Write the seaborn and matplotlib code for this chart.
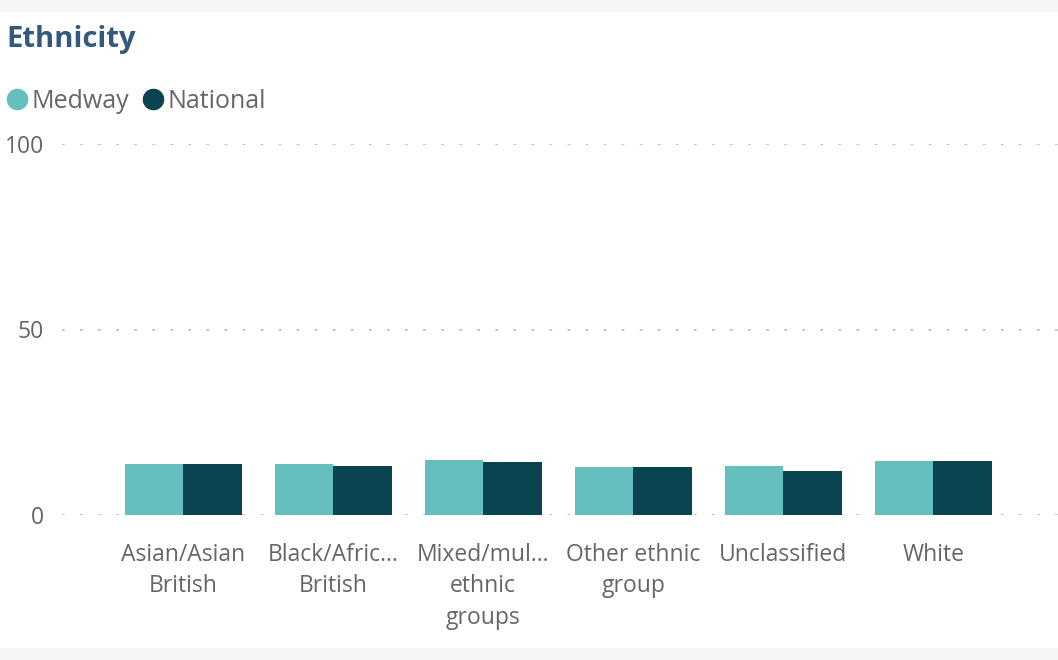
import matplotlib
matplotlib.use("Agg")
import matplotlib.pyplot as plt
import seaborn as sns
import pandas as pd
from matplotlib.lines import Line2D
from matplotlib.patches import Rectangle

categories = ["Asian/Asian\nBritish", "Black/Afric...\nBritish", "Mixed/mul...\nethnic\ngroups",
              "Other ethnic\ngroup", "Unclassified", "White"]
medway = [13.7, 13.7, 14.8, 12.9, 13.2, 14.6]
national = [13.7, 13.2, 14.3, 12.9, 11.9, 14.6]
series = ["Medway", "National"]
colors = ["#66bfbf", "#0a4450"]

df = pd.DataFrame({
    "category": categories * 2,
    "value": medway + national,
    "series": [series[0]] * len(categories) + [series[1]] * len(categories),
})

sns.set_theme(style="white")
plt.rcParams["font.family"] = ["Open Sans", "DejaVu Sans"]

W, H = 1058, 660
fig = plt.figure(figsize=(W / 100, H / 100), dpi=100)
fig.patch.set_facecolor("#f6f6f6")
fig.add_artist(Rectangle((0, 12 / H), 1, (648 - 12) / H, transform=fig.transFigure,
                         facecolor="white", edgecolor="none", zorder=0))

ax = fig.add_axes([62 / W, (H - 515) / H, (W - 62) / W, (515 - 144) / H])
ax.set_facecolor("none")
sns.barplot(data=df, x="category", y="value", hue="series", palette=colors,
            width=0.78, gap=0, saturation=1, ax=ax, legend=False, errorbar=None,
            linewidth=0)

ax.set_ylim(0, 100)
ax.set_xlim(-0.807, 5.83)
ax.set_yticks([0, 50, 100])
ax.set_yticklabels(["0", "50", "100"])
for y in [0, 50, 100]:
    ax.axhline(y, color="#bdbdbd", linestyle=(0, (1.5, 8.5)), linewidth=1.3, zorder=0)
for s in ax.spines.values():
    s.set_visible(False)
ax.tick_params(axis="y", length=0, pad=13, labelsize=16.5, labelcolor="#666666")
ax.tick_params(axis="x", length=0, pad=20, labelsize=16.5, labelcolor="#666666")
for lbl in ax.get_xticklabels():
    lbl.set_linespacing(1.42)
ax.set_xlabel("")
ax.set_ylabel("")

fig.text(6 / W, 1 - 39 / H, "Ethnicity", fontsize=21, fontweight="bold",
         color="#34597f", va="center", ha="left")

legend_x = [17, 153]
text_x = [31, 167]
for name, c, mx, tx in zip(series, colors, legend_x, text_x):
    fig.add_artist(Line2D([mx / W], [1 - 99 / H], marker="o", linestyle="", markersize=14.5,
                          markerfacecolor=c, markeredgecolor=c, transform=fig.transFigure))
    fig.text(tx / W, 1 - 101 / H, name, fontsize=18, color="#666666", va="center", ha="left")

fig.savefig("out.png", dpi=100)
